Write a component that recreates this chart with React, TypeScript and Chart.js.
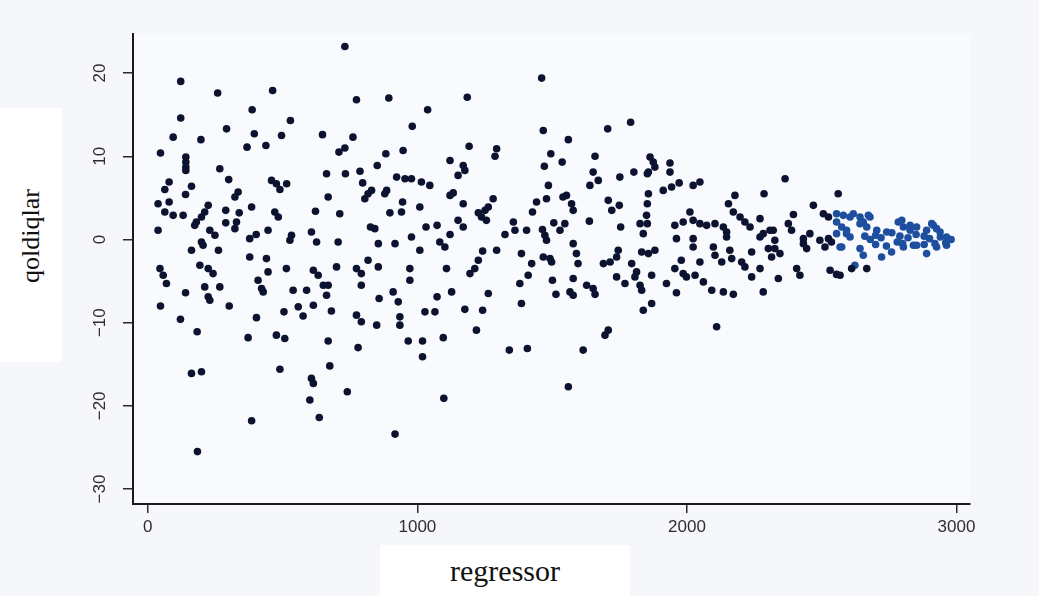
import React, { useEffect, useRef } from "react";
import { Chart, registerables } from "chart.js";

Chart.register(...registerables);

const xTitle = "regressor";
const yTitle = "qoldiqlar";
const xTickValues = [0, 1000, 2000, 3000];
const yTickValues = [-30, -20, -10, 0, 10, 20];

// regressor values (x) and residuals (y), paired by index
const regressorX = [
  731, 122, 259, 463, 774, 387, 122, 529, 292, 395, 496, 648, 761, 94, 197, 368, 438, 709, 731, 47,
  141, 141, 141, 141, 267, 459, 477, 490, 515, 663, 733, 300, 79, 63, 162, 140, 335, 323, 38, 79,
  669, 385, 224, 211, 199, 180, 174, 63, 94, 131, 289, 339, 471, 484, 622, 712, 38, 289, 329, 323,
  230, 249, 446, 378, 402, 533, 527, 607, 626, 706, 199,
  1461, 894, 1185, 1038, 981, 1467, 1192, 1495, 883, 947, 1294, 1288, 1560, 851, 787, 1121, 1170, 1176, 1151, 1471,
  1537, 797, 923, 954, 978, 1015, 1046, 830, 817, 805, 886, 879, 1486, 1121, 1133, 945, 941, 1009, 1170, 1281,
  1442, 1479, 1540, 898, 1427, 1226, 1251, 1263, 1238, 1256, 826, 842, 1032, 1073, 1151, 1170, 1356, 1362, 1405, 1464,
  1473, 1506, 1529, 978, 1121, 1325, 855, 917, 1083,
  1791, 1706, 1659, 1863, 1875, 1881, 1857, 1937, 1937, 1652, 1671, 1640, 1751, 1803, 1853, 1912, 1943, 1971, 2023, 2048,
  1553, 1572, 1578, 1708, 1749, 1721, 1857, 1853, 2154, 2178, 2286, 2172, 2197, 2215, 2234, 2271, 1638, 1754, 1547, 1850,
  1853, 1826, 1838, 2011, 1955, 1986, 2023, 2048, 2073, 2104, 2135, 2147, 1961, 2023, 2283, 2308,
  2364, 2561, 2469, 2395, 2506, 2525, 2555, 2580, 2617, 2642, 2673, 2376, 2388, 2456, 2555, 2574, 2592, 2555, 2605, 2642,
  2667, 2704, 2741, 2784, 2803, 2828, 2852, 2889, 2914, 2939, 2963, 2320, 2326, 2432, 2493, 2525,
  2605, 2679, 2654, 2797, 2828, 2908, 2926, 2592, 2660, 2700, 2760, 2790, 2820, 2850, 2880, 2900, 2940, 2980, 2720, 2680,
  2700, 2740, 2800, 2840, 2880, 2920, 2960, 2780, 2574, 2642, 2654, 2722, 2759, 2889, 2963, 2623, 2611, 2667, 2568,
  2326, 2345, 2314, 2432, 2444, 2512, 2536, 2568, 2339, 2407, 2419, 2531, 2555, 2803, 2852, 2926,
  1578, 1590, 1596, 1578, 1566, 1578, 1628, 1652, 1659, 1690, 1715, 1745, 1739, 1739, 1770, 1795, 1813, 1807, 1826, 1832,
  1832, 1857, 1881, 1869, 1838, 1869, 1696, 1708, 1615, 1560, 2023, 1979, 1955, 1986, 1998, 1924, 1961, 2048, 2030, 2061,
  2092, 2110, 2098, 2104, 2159, 2129, 2166, 2203, 2215, 2135, 2172, 2240, 2240, 2271, 2283, 2147, 2271, 2302,
  162, 205, 262, 378, 440, 446, 700, 45, 57, 69, 193, 224, 242, 211, 267, 224, 230, 140, 409, 422,
  428, 514, 614, 632, 539, 589, 651, 669, 663, 47, 121, 302, 505, 558, 576, 614, 681, 403, 183, 372,
  477, 508, 669, 162, 199, 490, 675, 607, 614, 601, 740, 636, 385, 184,
  1009, 1102, 774, 792, 792, 817, 855, 972, 972, 1108, 1195, 1213, 1226, 1242, 1294, 1386, 1424, 1411, 1380, 1479,
  1467, 1492, 1498, 1501, 1514, 910, 929, 858, 774, 792, 849, 935, 935, 1028, 1065, 1073, 1127, 1263, 1176, 1242,
  1386, 1219, 780, 966, 1019, 1019, 1096, 1341, 1408, 1098, 917,
];

const residualY = [
  23.2, 19.0, 17.6, 17.9, 16.8, 15.6, 14.6, 14.3, 13.3, 12.7, 12.5, 12.6, 12.3, 12.3, 12.0, 11.1, 11.3, 10.5, 11.0, 10.4,
  9.9, 9.3, 8.7, 8.3, 8.5, 7.1, 6.7, 6.0, 6.7, 7.9, 7.9, 7.2, 6.9, 6.0, 6.4, 5.4, 5.7, 5.1, 4.3, 4.5,
  5.1, 3.9, 4.1, 3.3, 2.7, 2.1, 1.7, 3.3, 2.9, 2.9, 3.5, 3.2, 3.3, 2.7, 3.4, 3.1, 1.1, 2.0, 2.1, 1.3,
  1.1, 0.5, 1.1, 0.1, 0.6, 0.5, -0.1, 0.9, -0.3, -0.3, -0.3,
  19.4, 17.0, 17.1, 15.6, 13.6, 13.1, 11.2, 10.3, 10.3, 10.7, 10.9, 10.0, 12.0, 8.9, 8.2, 9.5, 8.9, 8.3, 7.7, 8.8,
  9.3, 6.8, 7.5, 7.3, 7.3, 6.9, 6.5, 5.9, 5.5, 4.9, 5.9, 5.5, 6.5, 5.3, 5.6, 4.5, 3.3, 3.9, 4.3, 4.9,
  4.5, 4.9, 5.1, 3.2, 3.3, 3.2, 3.5, 3.9, 2.7, 2.3, 1.5, 1.3, 1.5, 1.7, 2.3, 1.5, 2.1, 1.1, 1.1, 1.2,
  0.5, 2.0, 1.1, 0.3, 0.6, 0.6, -0.5, -0.5, -0.3,
  14.1, 13.3, 10.0, 9.9, 9.3, 8.7, 8.1, 9.2, 8.1, 8.1, 7.1, 6.5, 7.5, 8.1, 7.9, 5.9, 6.3, 6.8, 6.5, 6.9,
  5.3, 4.3, 3.5, 4.7, 4.1, 3.5, 5.5, 4.3, 4.3, 5.3, 5.5, 3.3, 2.7, 2.1, 1.5, 2.5, 2.2, 1.5, 1.9, 2.9,
  1.9, 1.9, 0.7, 3.3, 1.7, 2.1, 2.3, 1.9, 1.7, 1.9, 1.5, 0.9, 0.1, 0.1, 0.7, 1.1,
  7.3, 5.5, 4.1, 3.0, 3.1, 2.7, 3.1, 2.9, 3.1, 2.7, 2.9, 1.9, 1.1, 0.7, 2.1, 1.5, 1.1, 0.7, 0.3, 1.9,
  1.5, 1.1, 0.9, 2.1, 1.5, 1.1, 1.5, 1.1, 1.7, 0.9, 0.3, 1.1, -0.1, 0.1, -0.1, 0.1,
  2.7, 2.7, 2.1, 2.3, 1.7, 1.9, 1.3, 0.7, 0.4, 0.5, 0.8, 0.4, 0.2, 0.6, 0.4, 0.1, 0.3, 0.0, 0.2, 0.0,
  -0.6, -0.8, -0.5, -0.7, -0.6, -0.5, -0.4, -0.3, -0.9, -1.1, -1.9, -2.1, -1.5, -1.7, -0.7, -3.1, -3.5, -3.5, -4.3,
  -1.1, -1.7, -2.1, -0.5, -1.1, -0.9, -0.3, -0.9, -4.7, -3.5, -4.3, -3.7, -4.2, -0.9, -0.7, -0.9,
  -0.5, -1.7, -2.9, -4.7, -6.3, -6.7, -5.5, -5.9, -6.6, -2.9, -2.7, -1.3, -2.1, -4.5, -5.3, -2.9, -3.9, -4.5, -5.5, -6.1,
  -1.5, -1.7, -1.3, -4.3, -8.5, -7.7, -11.5, -10.9, -13.3, -17.7, -0.9, -2.5, -3.5, -4.1, -4.5, -5.3, -6.4, -2.7, -4.3, -5.1,
  -6.1, -10.5, -0.9, -1.9, -1.3, -2.7, -2.3, -2.7, -3.3, -6.3, -6.6, -1.5, -4.5, -3.5, -6.3, 0.3, 0.3, -1.1,
  -1.3, -0.7, -1.3, -2.1, -2.3, -3.9, -3.3, -3.5, -4.3, -5.3, -3.1, -3.5, -4.1, -5.7, -5.7, -6.9, -7.3, -6.4, -4.9, -5.9,
  -6.3, -3.5, -3.7, -4.3, -6.1, -6.1, -5.5, -5.5, -6.7, -8.0, -9.6, -8.0, -8.7, -8.1, -9.2, -7.9, -8.6, -9.4, -11.1, -11.8,
  -11.5, -11.9, -12.2, -16.1, -15.9, -15.6, -15.2, -16.7, -17.3, -19.3, -18.3, -21.4, -21.8, -25.5,
  -1.3, -0.9, -3.5, -4.1, -5.5, -2.5, -3.3, -3.5, -4.9, -3.5, -4.1, -3.5, -2.5, -1.4, -1.3, -1.7, -2.9, -4.3, -5.3, -0.1,
  -2.1, -2.3, -2.7, -4.9, -6.6, -6.3, -7.5, -7.1, -9.1, -9.9, -10.3, -9.3, -10.3, -8.7, -8.7, -6.9, -6.3, -6.5, -8.4, -8.5,
  -7.7, -10.9, -13.0, -12.2, -12.2, -14.1, -11.8, -13.3, -13.1, -19.1, -23.4,
];

const formatTick = (v: number) => (v < 0 ? "\u2212" + Math.abs(v) : String(v));

const plotBackground = {
  id: "plotBackground",
  beforeDraw(chart: any) {
    const { ctx, chartArea } = chart;
    ctx.save();
    ctx.fillStyle = "#f9fafd";
    ctx.fillRect(chartArea.left, chartArea.top, chartArea.right - chartArea.left, chartArea.bottom - chartArea.top);
    ctx.restore();
  },
};

const yTickLabels = {
  id: "yTickLabels",
  afterDraw(chart: any) {
    const { ctx } = chart;
    const scale = chart.scales.y;
    ctx.save();
    ctx.font = '17px "Liberation Sans", Arial, sans-serif';
    ctx.fillStyle = "#2e2e2e";
    ctx.textAlign = "center";
    ctx.textBaseline = "middle";
    scale.ticks.forEach((t: any) => {
      const py = scale.getPixelForValue(t.value);
      ctx.save();
      ctx.translate(scale.left + 100, py);
      ctx.rotate(-Math.PI / 2);
      ctx.fillText(formatTick(t.value), 0, 0);
      ctx.restore();
    });
    ctx.restore();
  },
};

export default function App() {
  const canvasRef = useRef<HTMLCanvasElement | null>(null);

  useEffect(() => {
    document.body.style.margin = "0";
    const canvas = canvasRef.current;
    if (!canvas) return;
    const points = regressorX.map((x, i) => ({ x, y: residualY[i] }));
    const chart = new Chart(canvas, {
      type: "scatter",
      data: {
        datasets: [
          {
            data: points,
            pointRadius: 3.8,
            pointBorderWidth: 0,
            pointHoverRadius: 3.8,
            backgroundColor: (c: any) => {
              const p = c.raw;
              if (p && p.x > 2540 && Math.abs(p.y) < 3.2) return "#1d4f9e";
              return "#0c1330";
            },
          },
        ],
      },
      options: {
        animation: false,
        responsive: false,
        devicePixelRatio: 1,
        layout: { padding: { left: 0, top: 34, right: 69, bottom: 0 } },
        plugins: { legend: { display: false }, tooltip: { enabled: false } },
        scales: {
          x: {
            type: "linear",
            min: -55,
            max: 3050,
            afterBuildTicks: (s: any) => {
              s.ticks = xTickValues.map((v) => ({ value: v }));
            },
            afterFit: (s: any) => {
              s.height = 92;
            },
            grid: {
              display: true,
              drawOnChartArea: false,
              drawTicks: true,
              tickLength: 9,
              color: "#2a2a2a",
              lineWidth: 1.5,
            },
            border: { display: true, color: "#1a1a1a", width: 2 },
            ticks: {
              autoSkip: false,
              maxRotation: 0,
              padding: 4,
              color: "#2e2e2e",
              font: { family: '"Liberation Sans", Arial, sans-serif', size: 17 },
              callback: (v: any) => formatTick(Number(v)),
            },
          },
          y: {
            type: "linear",
            min: -31.8,
            max: 24.7,
            afterBuildTicks: (s: any) => {
              s.ticks = yTickValues.map((v) => ({ value: v }));
            },
            afterFit: (s: any) => {
              s.width = 133;
            },
            grid: {
              display: true,
              drawOnChartArea: false,
              drawTicks: true,
              tickLength: 10,
              color: "#2a2a2a",
              lineWidth: 1.5,
            },
            border: { display: true, color: "#1a1a1a", width: 2 },
            ticks: { display: false },
          },
        },
      },
      plugins: [plotBackground, yTickLabels],
    });
    return () => chart.destroy();
  }, []);

  return (
    <div
      style={{
        position: "fixed",
        left: 0,
        top: 0,
        width: 1039,
        height: 596,
        background: "#f5f7fb",
        overflow: "hidden",
      }}
    >
      <canvas ref={canvasRef} width={1039} height={596} style={{ position: "absolute", left: 0, top: 0 }} />
      <div
        style={{
          position: "absolute",
          left: 0,
          top: 108,
          width: 62,
          height: 254,
          background: "#ffffff",
        }}
      >
        <div
          style={{
            position: "absolute",
            left: 31,
            top: 128,
            transform: "translate(-50%, -50%) rotate(-90deg)",
            fontFamily: '"Liberation Serif", "Times New Roman", serif',
            fontSize: 26,
            color: "#111",
            whiteSpace: "nowrap",
            lineHeight: 1,
          }}
        >
          {yTitle}
        </div>
      </div>
      <div
        style={{
          position: "absolute",
          left: 380,
          top: 545,
          width: 250,
          height: 51,
          background: "#ffffff",
          textAlign: "center",
          fontFamily: '"Liberation Serif", "Times New Roman", serif',
          fontSize: 30,
          lineHeight: "51px",
          color: "#111",
        }}
      >
        {xTitle}
      </div>
    </div>
  );
}
